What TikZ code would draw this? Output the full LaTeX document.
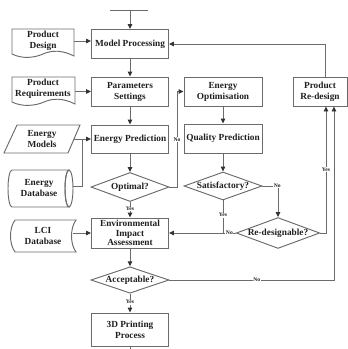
\documentclass[tikz,border=0pt]{standalone}
\usepackage{fontspec}
\setmainfont{Liberation Serif}
\usetikzlibrary{shapes.geometric,arrows.meta}
\definecolor{linec}{gray}{0.42}
\definecolor{txtc}{gray}{0.12}
\begin{document}
\begin{tikzpicture}[x=1pt,y=-1pt,line width=0.95pt,
  every node/.style={text=txtc},
  boxtext/.style={font=\bfseries\fontsize{9.3}{11}\selectfont,align=center},
  proc/.style={boxtext,draw=linec,rectangle,minimum width=77pt,minimum height=29pt,inner sep=1pt},
  dec/.style={boxtext,draw=linec,diamond,aspect=2.7,inner sep=0pt,minimum width=78pt,minimum height=29pt},
  free/.style={boxtext,inner sep=0pt},
  lbl/.style={fill=white,inner sep=0.6pt,font=\bfseries\fontsize{5.6}{6}\selectfont},
  arr/.style={draw=linec,-{Triangle[length=5pt,width=4.5pt,color=black!80]}},
  ln/.style={draw=linec}]
\useasboundingbox (0,0) rectangle (348,349);
% main column
\node[proc] (MP) at (130,44) {Model Processing};
\node[proc] (PS) at (130,91.5) {Parameters\\Settings};
\node[proc,minimum height=28pt] (EP) at (130,139) {Energy Prediction};
\node[dec] (OPT) at (130,187) {Optimal?};
\node[proc,minimum height=30pt] (EIA) at (130,233) {Environmental\\[-1.5pt]Impact\\[-1.5pt]Assessment};
\node[dec,minimum height=26pt] (ACC) at (130,280) {Acceptable?};
\node[proc,minimum height=33pt] (PR3) at (130,329.5) {3D Printing\\Process};
% second column
\node[proc,minimum width=78pt] (EO) at (223,91.5) {Energy\\Optimisation};
\node[proc,minimum width=78pt] (QP) at (223,138.5) {Quality Prediction};
\node[dec,minimum height=28pt] (SAT) at (223,186) {Satisfactory?};
\node[dec,minimum width=77pt,minimum height=30pt] (RDG) at (278,233) {Re-designable?};
\node[proc,minimum width=54pt] (RD) at (320,91.5) {Product\\Re-design};
% inputs
\node[free] (PD) at (43,41) {Product\\Design};
\node[free] (PRQ) at (43,89) {Product\\Requirements};
\node[free] (EM) at (42,139) {Energy\\Models};
\node[free] (ED) at (39,188) {Energy\\Database};
\node[free] (LCI) at (43,236) {LCI\\Database};
% input outlines
\draw[ln] (12,29) -- (74,29) -- (74,56) .. controls (62,50) and (52,50) .. (43,54) .. controls (34,58) and (22,59) .. (12,54) -- cycle;
\draw[ln] (12,77) -- (75,77) -- (75,104) .. controls (63,98) and (53,98) .. (44,102) .. controls (35,106) and (22,107) .. (12,102) -- cycle;
\draw[ln] (17,125) -- (80,125) -- (68,153) -- (4,153) -- cycle;
\draw[ln] (12,170) -- (69,170) arc[start angle=270,end angle=90,x radius=4,y radius=18.5] -- (12,207) arc[start angle=90,end angle=270,x radius=4,y radius=18.5];
\draw[ln] (69,188.5) ellipse[x radius=4,y radius=18.5];
\draw[ln] (15,220) -- (76,220) .. controls (70,228) and (70,244) .. (76,252) -- (15,252) .. controls (9,244) and (9,228) .. (15,220);
% coordinates
\coordinate (topl) at (110,10);
\coordinate (topr) at (148,10);
\coordinate (topm) at (130,10);
\coordinate (emr) at (74,139);
\coordinate (edr) at (73,186);
\coordinate (edj) at (82,186);
\coordinate (lcir) at (73,233);
\coordinate (noA) at (177,187);
\coordinate (noB) at (177,91.5);
\coordinate (satc) at (278,186);
\coordinate (jn) at (223,233);
\coordinate (rdgc) at (326,233);
\coordinate (accc) at (334,280);
\coordinate (rdtop) at (325,44);
\coordinate (bot) at (130,349);
% connectors
\draw[ln] (topl) -- (topr);
\draw[arr] (topm) -- (MP.north);
\draw[arr] (MP) -- (PS);
\draw[arr] (PS) -- (EP);
\draw[arr] (EP) -- (OPT.north);
\draw[arr] (OPT.south) -- node[lbl,pos=0.45]{Yes} (EIA.north);
\draw[arr] (EIA) -- (ACC.north);
\draw[arr] (ACC.south) -- node[lbl,pos=0.45]{Yes} (PR3.north);
\draw[ln] (PR3.south) -- (bot);
\draw[arr] (PD.east -| 74,0) -- (PD.east -| MP.west);
\draw[arr] (PRQ.east -| 75,0) ++(0,2.5) -- (MP.west |- PS.west);
\draw[arr] (emr) -- (EP.west);
\draw[ln] (edr) -- (edj) -- (edj |- emr);
\draw[arr] (lcir) -- (EIA.west);
\draw[arr] (OPT.east) -- (noA) -- node[lbl,pos=0.5]{No} (noB) -- (EO.west);
\draw[arr] (EO) -- (QP);
\draw[arr] (QP) -- (SAT.north);
\draw[arr] (SAT.east) -- node[lbl,pos=0.95]{No} (satc) -- (RDG.north);
\draw[ln] (SAT.south) -- node[lbl,pos=0.45]{Yes} (jn);
\draw[ln] (RDG.west) -- node[lbl,pos=0.5]{No} (jn);
\draw[arr] (jn) -- (EIA.east);
\draw[arr] (RDG.east) -- (rdgc) -- node[lbl,pos=0.5]{Yes} (rdgc |- RD.south);
\draw[arr] (ACC.east) -- node[lbl,pos=0.53]{No} (accc) -- (accc |- RD.south);
\draw[ln] (rdtop |- RD.north) -- (rdtop);
\draw[arr] (rdtop) -- (MP.east);
\end{tikzpicture}
\end{document}
